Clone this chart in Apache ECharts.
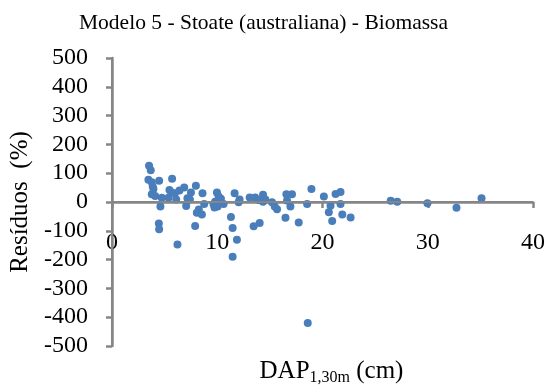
<!DOCTYPE html>
<html>
<head>
<meta charset="utf-8">
<script src="https://cdn.jsdelivr.net/npm/echarts@6/dist/echarts.min.js"></script>
<style>html,body{margin:0;padding:0;background:#fff}#c{width:549px;height:392px}</style>
</head>
<body>
<div id="c"></div>
<script>
const titleText = 'Modelo 5 - Stoate (australiana) - Biomassa';
const yAxisTitle = 'Resíduos  (%)';
const xTicks = [0, 10, 20, 30, 40];
const yTicks = [-500, -400, -300, -200, -100, 0, 100, 200, 300, 400, 500];
const dap = [3.52,3.68,3.46,3.78,3.87,3.94,3.78,4.1,4.48,4.73,4.6,4.45,4.48,5.71,5.46,5.65,5.37,5.97,6.1,6.41,6.86,6.22,7.05,7.17,7.5,7.97,7.4,8.25,8.06,8.54,7.9,8.6,8.76,9.97,10.13,9.8,9.65,10.03,10.35,10.6,9.74,11.65,12.12,12.03,11.3,11.46,11.87,11.46,13.08,13.6,13.46,14.03,13.94,14.35,14.35,14.57,15.2,15.46,15.68,16.57,17.1,16.63,16.95,16.48,17.74,18.95,18.54,20.13,20.76,20.6,20.92,21.24,21.71,21.71,21.88,22.67,26.48,27.1,29.97,32.73,35.11,18.6];
const residuos = [126,110,77,69,54,45,27,21,74,15,-16,-75,-95,81,42,33,15,30,9,40,50,-148,-14,13,33,56,9,-26,-37,-43,-83,30,-7,33,19,1,-8,-16,11,-7,-19,30,9,-1,-52,-90,-131,-190,16,16,-84,-73,7,25,1,9,-1,-16,-25,27,27,5,-16,-55,-71,45,-7,19,-13,-36,-66,28,35,-7,-43,-54,4,1,-4,-20,13,-420];

const chart = echarts.init(document.getElementById('c'));
const serif = '"Liberation Serif","Times New Roman",serif';
const axisColor = '#868686';
chart.setOption({
  animation: false,
  title: {
    text: titleText, left: 74, top: 7,
    textStyle: {fontFamily: serif, fontSize: 21.5, fontWeight: 'normal', color: '#000'}
  },
  grid: {left: 112, right: 16, top: 58, bottom: 46, containLabel: false},
  xAxis: {
    type: 'value', min: xTicks[0], max: xTicks[xTicks.length - 1], interval: 10,
    position: 'bottom', offset: -144,
    axisLine: {show: true, onZero: false, lineStyle: {color: axisColor, width: 2.5}},
    axisTick: {show: true, inside: false, length: 6, lineStyle: {color: axisColor, width: 2.5}},
    axisLabel: {show: true, margin: 29, fontFamily: serif, fontSize: 24, color: '#000'},
    splitLine: {show: false},
    name: '{a|DAP}{b|1,30m}{a| (cm)}',
    nameLocation: 'middle', nameGap: 154,
    nameTextStyle: {
      fontFamily: serif, fontSize: 25, color: '#000', padding: [0, 0, 0, 18],
      rich: {
        a: {fontFamily: serif, fontSize: 25, color: '#000', lineHeight: 30},
        b: {fontFamily: serif, fontSize: 16, color: '#000', lineHeight: 16, verticalAlign: 'bottom'}
      }
    }
  },
  yAxis: {
    type: 'value', min: yTicks[0], max: yTicks[yTicks.length - 1], interval: 100,
    axisLine: {show: true, onZero: false, lineStyle: {color: axisColor, width: 2.5}},
    axisTick: {show: true, inside: false, length: 6, lineStyle: {color: axisColor, width: 2.5}},
    axisLabel: {show: true, margin: 24, fontFamily: serif, fontSize: 24, color: '#000'},
    splitLine: {show: false},
    name: yAxisTitle, nameLocation: 'middle', nameGap: 70,
    nameTextStyle: {fontFamily: serif, fontSize: 25, color: '#000'}
  },
  series: [{
    type: 'scatter',
    data: dap.map((x, i) => [x, residuos[i]]),
    symbol: 'circle', symbolSize: 8,
    itemStyle: {color: '#4a7ebb', opacity: 1},
    markLine: {
      silent: true, symbol: 'none', animation: false,
      label: {show: false},
      lineStyle: {color: axisColor, width: 2, type: 'solid'},
      data: [{yAxis: 0}, {xAxis: 0}]
    }
  }]
});
</script>
</body>
</html>
